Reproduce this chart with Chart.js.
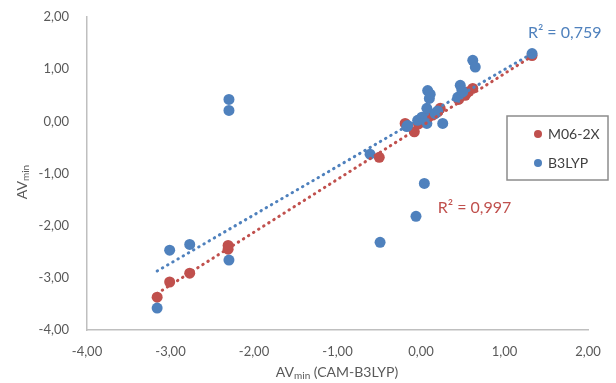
<!DOCTYPE html>
<html>
<head>
<meta charset="utf-8">
<script src="https://cdn.jsdelivr.net/npm/chart.js@4/dist/chart.umd.min.js"></script>
<style>
  html, body { margin: 0; padding: 0; background: #fff; }
  #wrap { width: 616px; height: 383px; }
</style>
</head>
<body>
<div id="wrap"><canvas id="chart" width="616" height="383"></canvas></div>
<script>
// values
var m06X = [-3.16, -3.01, -2.77, -2.31, -2.31, -0.50, -0.19, -0.08, -0.03, 0.02, 0.08, 0.14, 0.20, 0.23, 0.45, 0.49, 0.53, 0.56, 0.62, 1.33];
var m06Y = [-3.37, -3.08, -2.91, -2.38, -2.45, -0.69, -0.04, -0.20, -0.05, 0.02, 0.08, 0.12, 0.18, 0.25, 0.42, 0.50, 0.50, 0.56, 0.63, 1.26];

var b3lypX = [-3.16, -3.01, -2.77, -2.30, -2.30, -2.30, -0.61, -0.49, -0.06, 0.04, -0.17, -0.16, -0.04, 0.01, 0.07, 0.07, 0.08, 0.10, 0.11, 0.17, 0.20, 0.26, 0.44, 0.47, 0.49, 0.50, 0.62, 0.65, 1.33];
var b3lypY = [-3.58, -2.47, -2.36, 0.42, 0.21, -2.66, -0.63, -2.32, -1.82, -1.19, -0.10, -0.08, 0.02, 0.08, 0.25, -0.04, 0.59, 0.44, 0.52, 0.15, 0.20, -0.04, 0.46, 0.69, 0.59, 0.56, 1.17, 1.04, 1.30];

// trend line end points (min x .. max x)
var trendX = [-3.16, 1.33];
var trendM06Y = [-3.30, 1.25];
var trendB3lypY = [-2.87, 1.30];

var seriesNames = ['M06-2X', 'B3LYP'];
var r2Labels = ['R² = 0,997', 'R² = 0,759'];
var r2Pos = [[0.20, -1.65], [1.28, 1.69]]; // data coords of label start

var axisMin = -4, axisMax = 2;

var colRed = '#C0504D';
var colBlue = '#4F81BD';
var fontFam = 'Lato, "Open Sans", sans-serif';

function toPoints(xs, ys) {
    var a = [];
    for (var i = 0; i < xs.length; i++)
        a.push({x: xs[i], y: ys[i]});
    return a;
}

function fmt(v) {
    return v.toFixed(2).replace('.', ',');
}

// draws "AV" + subscript "min" + rest, centered on (cx, cy)
function drawAxisTitle(ctx, cx, cy, rest, rotate) {
    ctx.save();
    ctx.translate(cx, cy);
    if (rotate)
        ctx.rotate(-Math.PI / 2);
    ctx.fillStyle = '#595959';
    ctx.textBaseline = 'middle';
    ctx.textAlign = 'left';
    var big = '14px ' + fontFam, small = '10px ' + fontFam;
    ctx.font = big;
    var w1 = ctx.measureText('AV').width;
    var w3 = ctx.measureText(rest).width;
    ctx.font = small;
    var w2 = ctx.measureText('min').width;
    var x = -(w1 + w2 + w3) / 2;
    ctx.font = big;
    ctx.fillText('AV', x, 0);
    ctx.font = small;
    ctx.fillText('min', x + w1, 4);
    ctx.font = big;
    ctx.fillText(rest, x + w1 + w2, 0);
    ctx.restore();
}

var extrasPlugin = {
    id: 'extras',
    afterDraw: function(chart) {
        var ctx = chart.ctx;
        var sx = chart.scales.x, sy = chart.scales.y;

        drawAxisTitle(ctx, 337, 372, ' (CAM-B3LYP)', false);
        drawAxisTitle(ctx, 22, 182, '', true);

        // R² labels
        ctx.save();
        ctx.font = '16px ' + fontFam;
        ctx.textBaseline = 'middle';
        ctx.textAlign = 'left';
        var cols = [colRed, colBlue];
        for (var i = 0; i < r2Labels.length; i++) {
            ctx.fillStyle = cols[i];
            ctx.fillText(r2Labels[i], sx.getPixelForValue(r2Pos[i][0]), sy.getPixelForValue(r2Pos[i][1]));
        }
        ctx.restore();

        // legend box
        ctx.save();
        ctx.fillStyle = '#fff';
        ctx.fillRect(507, 116, 101, 64);
        ctx.strokeStyle = '#8c8c8c';
        ctx.lineWidth = 1.5;
        ctx.strokeRect(507, 116, 101, 64);
        ctx.font = '14px ' + fontFam;
        ctx.textBaseline = 'middle';
        ctx.textAlign = 'left';
        for (var j = 0; j < seriesNames.length; j++) {
            var yy = 134 + j * 29;
            ctx.fillStyle = cols[j];
            ctx.beginPath();
            ctx.arc(538, yy, 4, 0, Math.PI * 2);
            ctx.fill();
            ctx.fillStyle = '#404040';
            ctx.fillText(seriesNames[j], 548, yy);
        }
        ctx.restore();
    }
};

var axisCommon = {
    type: 'linear',
    min: axisMin,
    max: axisMax,
    grid: { display: false, drawTicks: false },
    border: { color: '#bfbfbf', width: 1.5 },
    ticks: {
        stepSize: 1,
        color: '#595959',
        font: { size: 13, family: fontFam },
        callback: function(v) { return fmt(v); }
    }
};

new Chart(document.getElementById('chart'), {
    type: 'scatter',
    data: {
        datasets: [{
            label: seriesNames[0],
            data: toPoints(m06X, m06Y),
            backgroundColor: colRed,
            borderColor: colRed,
            pointRadius: 5.5,
            borderWidth: 0,
            order: 3
        }, {
            label: seriesNames[1],
            data: toPoints(b3lypX, b3lypY),
            backgroundColor: colBlue,
            borderColor: colBlue,
            pointRadius: 5.5,
            borderWidth: 0,
            order: 2
        }, {
            type: 'line',
            label: 'trend ' + seriesNames[0],
            data: toPoints(trendX, trendM06Y),
            borderColor: colRed,
            borderWidth: 3,
            borderDash: [0.5, 5.5],
            borderCapStyle: 'round',
            pointRadius: 0,
            fill: false,
            order: 1
        }, {
            type: 'line',
            label: 'trend ' + seriesNames[1],
            data: toPoints(trendX, trendB3lypY),
            borderColor: colBlue,
            borderWidth: 3,
            borderDash: [0.5, 5.5],
            borderCapStyle: 'round',
            pointRadius: 0,
            fill: false,
            order: 0
        }]
    },
    options: {
        responsive: false,
        animation: false,
        layout: { padding: { top: 17, right: 28, left: 0, bottom: 0 } },
        plugins: {
            legend: { display: false },
            tooltip: { enabled: false }
        },
        scales: {
            x: Object.assign({}, axisCommon, {
                ticks: Object.assign({}, axisCommon.ticks, { padding: 14, maxRotation: 0 }),
                afterFit: function(s) { s.height = 53; s.paddingLeft = 0; s.paddingRight = 0; }
            }),
            y: Object.assign({}, axisCommon, {
                ticks: Object.assign({}, axisCommon.ticks, { padding: 18 }),
                afterFit: function(s) { s.width = 87; s.paddingTop = 0; s.paddingBottom = 0; }
            })
        }
    },
    plugins: [extrasPlugin]
});
</script>
</body>
</html>
